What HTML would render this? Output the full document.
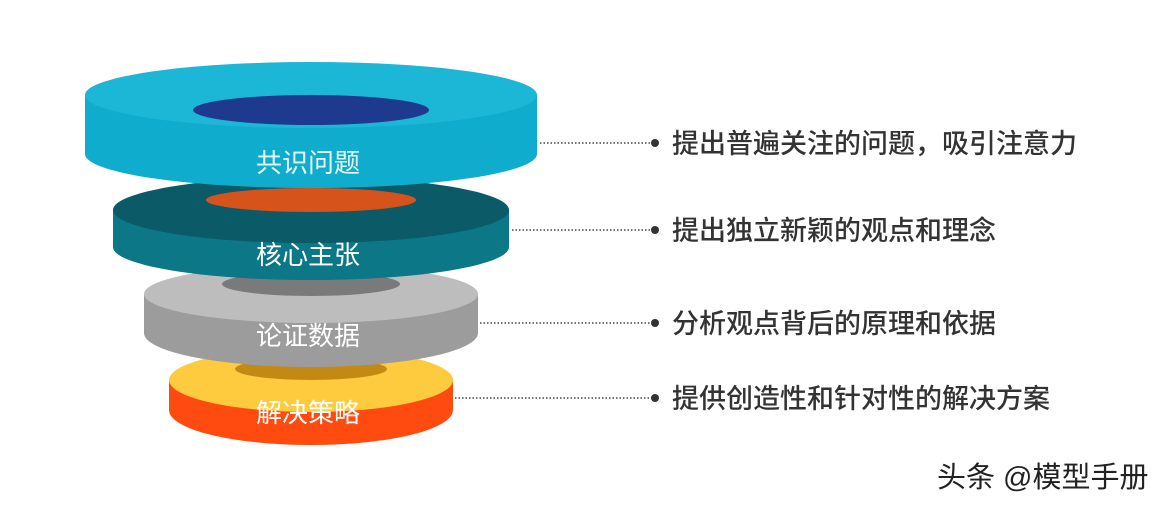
<!DOCTYPE html>
<html><head><meta charset="utf-8"><style>
html,body{margin:0;padding:0;background:#fff;}
svg{display:block}
text{font-family:"Liberation Sans","Noto Sans CJK SC",sans-serif;}
</style></head><body>
<svg width="1166" height="506" viewBox="0 0 1166 506" xmlns="http://www.w3.org/2000/svg">
<!-- disk 4 -->
<ellipse cx="311" cy="410" rx="142" ry="35" fill="#ff4a10"/>
<rect x="169" y="380" width="284" height="30" fill="#ff4a10"/>
<ellipse cx="311" cy="380" rx="142" ry="32" fill="#ffcb3e"/>
<ellipse cx="311" cy="369" rx="76" ry="11" fill="#c28a12"/>
<!-- disk 3 -->
<ellipse cx="311" cy="333" rx="167" ry="34" fill="#9c9c9c"/>
<rect x="144" y="294" width="334" height="39" fill="#9c9c9c"/>
<ellipse cx="311" cy="294" rx="167" ry="29" fill="#bdbdbd"/>
<ellipse cx="311" cy="284" rx="89" ry="12" fill="#7a7a7a"/>
<!-- disk 2 -->
<ellipse cx="311" cy="247" rx="198" ry="33" fill="#0b7787"/>
<rect x="113" y="210" width="396" height="37" fill="#0b7787"/>
<ellipse cx="311" cy="210" rx="198" ry="33" fill="#0a5a68"/>
<ellipse cx="311" cy="200" rx="105" ry="12" fill="#d6531c"/>
<!-- disk 1 -->
<ellipse cx="311" cy="154" rx="226" ry="34" fill="#10acce"/>
<rect x="85" y="95" width="452" height="59" fill="#10acce"/>
<ellipse cx="311" cy="95" rx="226" ry="33" fill="#1cb6d6"/>
<ellipse cx="311" cy="110" rx="118" ry="15" fill="#1e3a8e"/>
<!-- labels -->
<g fill="#fff" font-size="26" text-anchor="middle">
<text x="308" y="172" fill="#e6fbff">共识问题</text>
<text x="308" y="264">核心主张</text>
<text x="308" y="345">论证数据</text>
<text x="308" y="422">解决策略</text>
</g>
<!-- connectors -->
<g stroke="#444" stroke-width="1.5" stroke-dasharray="1.5 2" fill="none">
<line x1="540" y1="143" x2="652" y2="143"/>
<line x1="512" y1="230" x2="652" y2="230"/>
<line x1="480" y1="323" x2="652" y2="323"/>
<line x1="455" y1="398" x2="652" y2="398"/>
</g>
<g fill="#333">
<circle cx="655" cy="143" r="4"/>
<circle cx="655" cy="230" r="4"/>
<circle cx="655" cy="323" r="4"/>
<circle cx="655" cy="398" r="4"/>
</g>
<g fill="#333" font-size="27" font-weight="500">
<text x="672" y="153">提出普遍关注的问题，吸引注意力</text>
<text x="672" y="240">提出独立新颖的观点和理念</text>
<text x="672" y="333">分析观点背后的原理和依据</text>
<text x="672" y="408">提供创造性和针对性的解决方案</text>
</g>
<text x="937" y="487" font-size="29" fill="#222">头条 @模型手册</text>
</svg>
</body></html>
